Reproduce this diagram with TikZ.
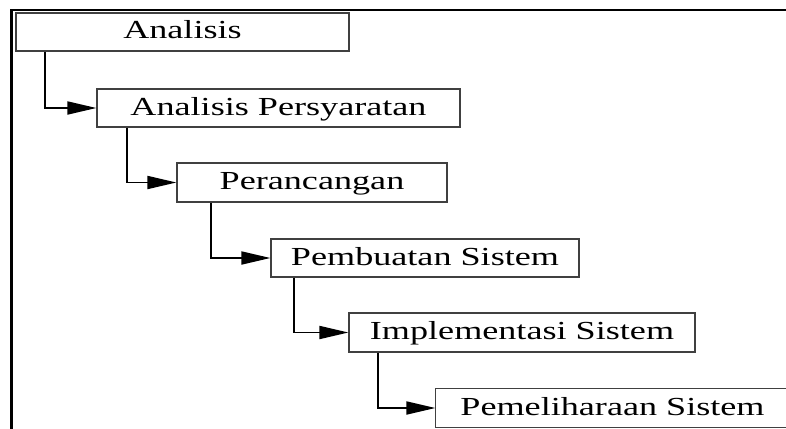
\documentclass[tikz,border=0pt]{standalone}
\usepackage{fontspec}
\setmainfont{Liberation Serif}
\usetikzlibrary{arrows.meta}
\newcommand{\wide}[1]{\scalebox{1.39}[1]{#1}}
\tikzset{
  stage/.style={draw=black!75, line width=1.2pt, rectangle, inner sep=0pt,
    font=\fontsize{26}{30}\selectfont, text height=18pt, text depth=4pt},
  edge/.style={draw=black!75, line width=1.2pt},
  flow/.style={line width=1.8pt, -{Triangle[length=29pt,width=13pt]}},
  frame/.style={line width=2.6pt, line cap=rect}
}
\begin{document}
\begin{tikzpicture}[x=1pt,y=-1pt]
\useasboundingbox (0,0) rectangle (786,428);
\draw[frame] (11.5,428) -- (11.5,10) -- (786,10);
\node[stage, minimum width=333pt, minimum height=38pt] (a) at (182.5,32) {\wide{Analisis}};
\node[stage, minimum width=363pt, minimum height=38pt] (b) at (278.5,108) {\wide{Analisis Persyaratan}};
\node[stage, minimum width=270pt, minimum height=39pt] (c) at (312,182.5) {\wide{Perancangan}};
\node[stage, minimum width=308pt, minimum height=38pt] (d) at (425,258) {\wide{Pembuatan Sistem}};
\node[stage, minimum width=346pt, minimum height=39pt] (e) at (522,332.5) {\wide{Implementasi Sistem}};
\node[stage, draw=none, minimum width=420pt, minimum height=38pt] (f) at (646,408) {\wide{Pemeliharaan Sistem}\hspace*{67pt}};
\draw[edge] (f.north east) -- (f.north west) -- (f.south west) -- (f.south east);
\draw[flow] (a.south -| 45,0) |- (b.west);
\draw[flow] (b.south -| 127,0) |- (c.west);
\draw[flow] (c.south -| 211,0) |- (d.west);
\draw[flow] (d.south -| 294,0) |- (e.west);
\draw[flow] (e.south -| 378,0) |- (f.west);
\end{tikzpicture}
\end{document}
